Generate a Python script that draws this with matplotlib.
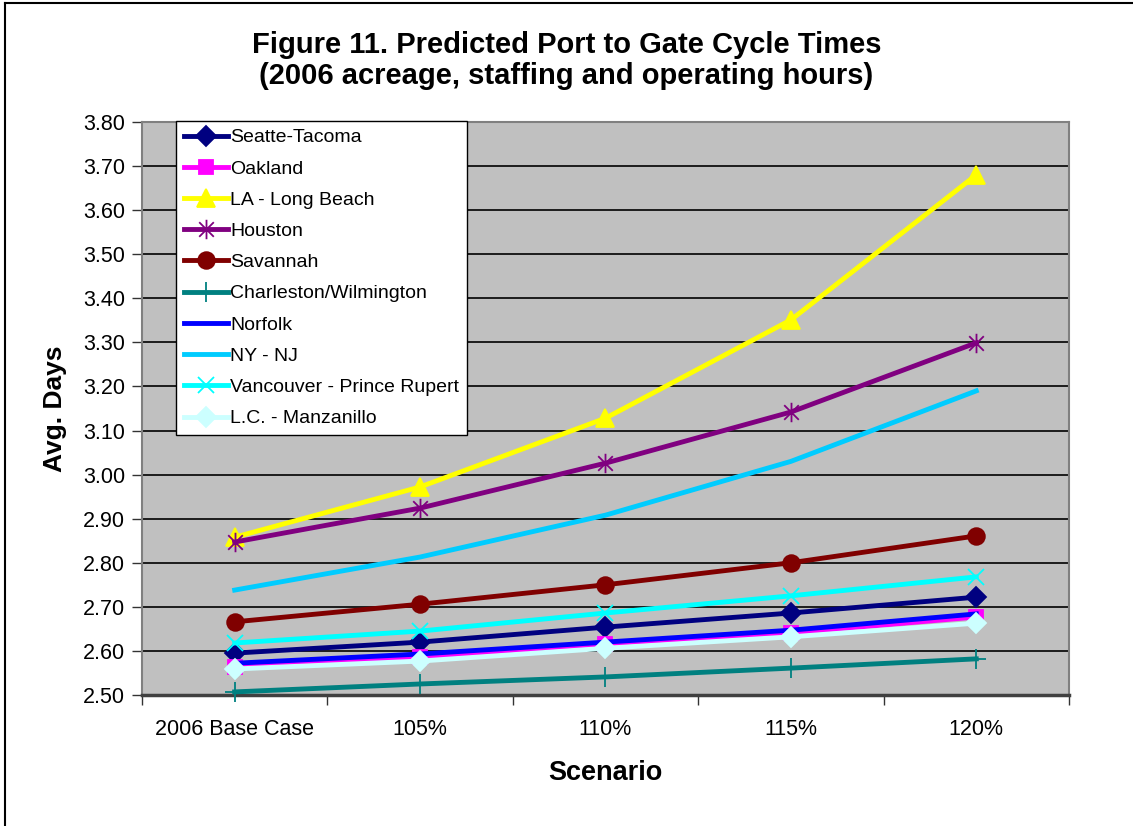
import matplotlib
matplotlib.use("Agg")
import matplotlib.pyplot as plt
from matplotlib.lines import Line2D
from matplotlib.path import Path

plt.rcParams["font.family"] = ["Liberation Sans", "DejaVu Sans"]

# scenario values (average days, port to gate)
scenarios = ["2006 Base Case", "105%", "110%", "115%", "120%"]

seattle_tacoma = [2.595, 2.620, 2.654, 2.686, 2.722]
oakland = [2.564, 2.586, 2.616, 2.641, 2.677]
la_long_beach = [2.858, 2.972, 3.128, 3.351, 3.680]
houston = [2.847, 2.924, 3.026, 3.142, 3.299]
savannah = [2.666, 2.706, 2.750, 2.800, 2.861]
charleston_wilmington = [2.507, 2.525, 2.541, 2.561, 2.582]
norfolk = [2.572, 2.593, 2.620, 2.647, 2.684]
ny_nj = [2.738, 2.813, 2.908, 3.030, 3.190]
vancouver_prince_rupert = [2.618, 2.645, 2.686, 2.725, 2.768]
lc_manzanillo = [2.559, 2.577, 2.606, 2.632, 2.663]

# excel-style star: vertical bar plus an X
star = Path(
    [(0, -1), (0, 1), (-0.75, -0.75), (0.75, 0.75), (-0.75, 0.75), (0.75, -0.75)],
    [Path.MOVETO, Path.LINETO, Path.MOVETO, Path.LINETO, Path.MOVETO, Path.LINETO],
)

series = [
    ("Seatte-Tacoma", seattle_tacoma, "#000080", "D", 10),
    ("Oakland", oakland, "#FF00FF", "s", 10),
    ("LA - Long Beach", la_long_beach, "#FFFF00", "^", 13),
    ("Houston", houston, "#800080", star, 14),
    ("Savannah", savannah, "#800000", "o", 12),
    ("Charleston/Wilmington", charleston_wilmington, "#008080", "+", 14),
    ("Norfolk", norfolk, "#0000FF", None, 0),
    ("NY - NJ", ny_nj, "#00CCFF", None, 0),
    ("Vancouver - Prince Rupert", vancouver_prince_rupert, "#00FFFF", "x", 12),
    ("L.C. - Manzanillo", lc_manzanillo, "#CCFFFF", "D", 10),
]

fig = plt.figure(figsize=(11.33, 8.26), dpi=100)
ax = fig.add_axes([0.1253, 0.1586, 0.8182, 0.6937])
ax.set_facecolor("#C0C0C0")

x = list(range(len(scenarios)))
for name, vals, color, marker, ms in series:
    ax.plot(x, vals, color=color, lw=3.5, marker=marker, markersize=ms,
            markerfacecolor=color, markeredgecolor=color, markeredgewidth=1.3,
            label=name, clip_on=False, zorder=3)

ax.set_xlim(-0.5, len(scenarios) - 0.5)
ax.set_ylim(2.50, 3.80)

# category ticks sit between the categories, labels in the middle
ax.set_xticks([i - 0.5 for i in range(len(scenarios) + 1)])
ax.set_xticklabels([])
ax.set_xticks(x, minor=True)
ax.set_xticklabels(scenarios, minor=True, fontsize=15.5)
ax.tick_params(axis="x", which="minor", length=0, pad=17)
ax.tick_params(axis="x", which="major", length=7, width=1, color="#333333", direction="out")

yt = [2.50 + 0.10 * i for i in range(14)]
ax.set_yticks(yt)
ax.set_yticklabels([f"{v:.2f}" for v in yt], fontsize=15.5)
ax.tick_params(axis="y", length=7, width=1, color="#333333", direction="out", pad=5)

ax.grid(axis="y", color="black", lw=1.2, zorder=1)
ax.set_axisbelow(True)
for side in ["top", "right", "left"]:
    ax.spines[side].set_color("#808080")
    ax.spines[side].set_linewidth(1.5)
ax.spines["bottom"].set_color("#404040")
ax.spines["bottom"].set_linewidth(2.5)

ax.set_ylabel("Avg. Days", fontsize=19, fontweight="bold", labelpad=12)
ax.set_xlabel("Scenario", fontsize=19.5, fontweight="bold", labelpad=15)

fig.suptitle("Figure 11. Predicted Port to Gate Cycle Times\n(2006 acreage, staffing and operating hours)",
             fontsize=21, fontweight="bold", y=1 - 31 / 826, va="top", linespacing=1.12)

leg = ax.legend(loc="upper left", bbox_to_anchor=(176 / 1133, 1 - 121 / 826),
                bbox_transform=fig.transFigure, fontsize=14, frameon=True,
                fancybox=False, borderpad=0.4, labelspacing=0.7, handlelength=2.3,
                handletextpad=0.1, borderaxespad=0)
leg.get_frame().set_edgecolor("black")
leg.get_frame().set_linewidth(1.0)
leg.get_frame().set_alpha(1)
leg.set_zorder(5)

# outer chart border
fig.add_artist(Line2D([5 / 1133, 5 / 1133], [0, 1 - 3 / 826], color="black", lw=1.5))
fig.add_artist(Line2D([5 / 1133, 1], [1 - 3 / 826, 1 - 3 / 826], color="black", lw=1.5))

fig.savefig("out.png", dpi=100)
